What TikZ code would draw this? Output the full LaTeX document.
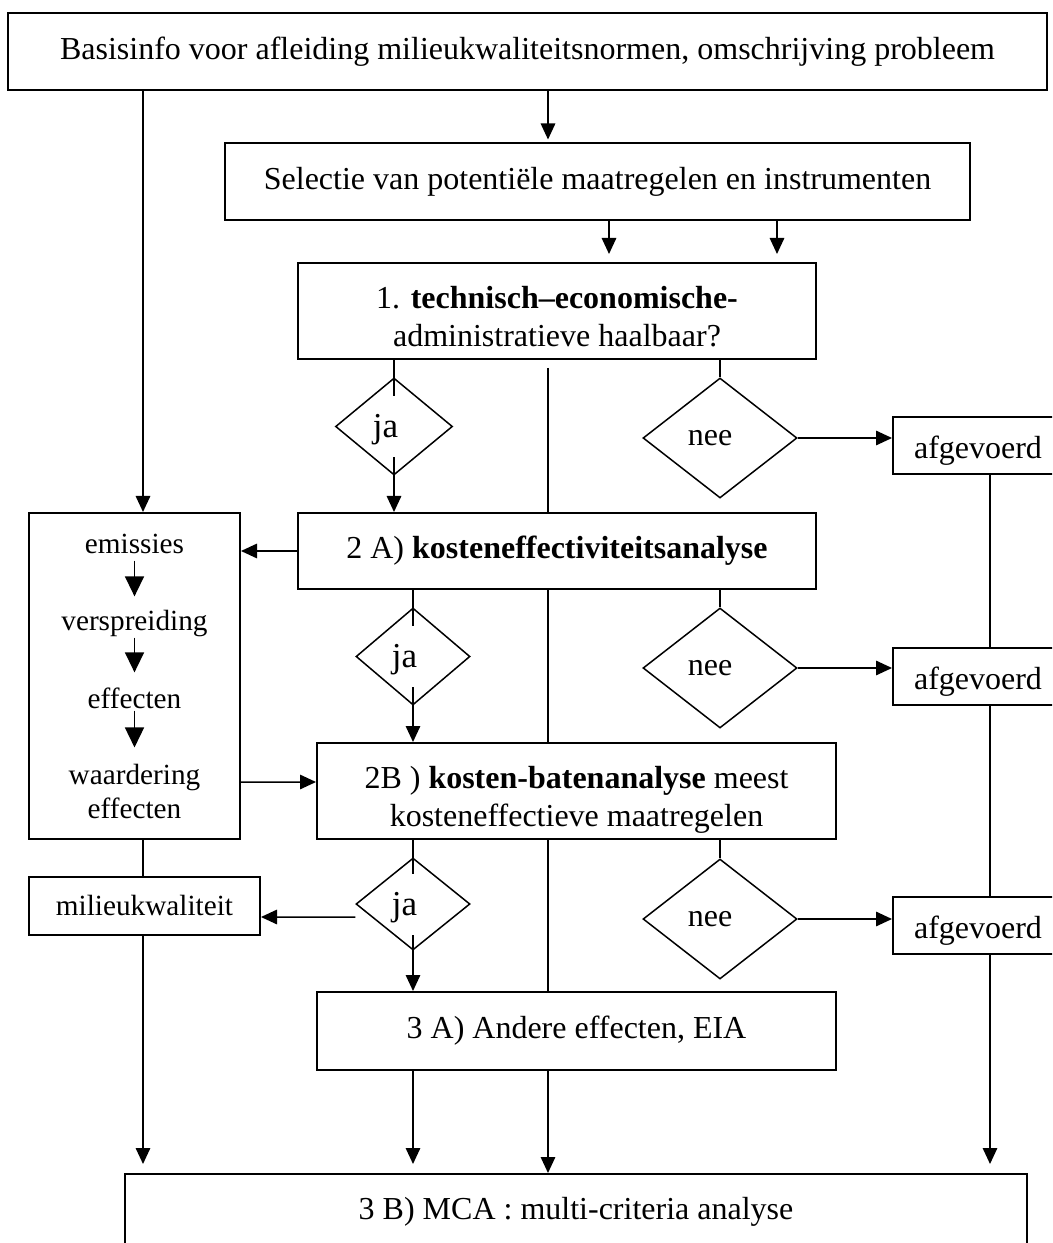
\documentclass[tikz,border=0pt]{standalone}
\usepackage{fontspec}
\setmainfont{Liberation Serif}
\usetikzlibrary{arrows.meta,shapes.geometric}
\newcommand{\jamask}[1]{{\setlength{\fboxsep}{0pt}\colorbox{white}{\rule[-7.7pt]{0pt}{24.4pt}\kern4pt}\kern-2pt\makebox[0pt]{\kern-6.8pt\fontsize{14}{16}\selectfont#1}\kern2pt}}

\begin{document}
\begin{tikzpicture}[x=0.4pt,y=-0.4pt]
    \tikzstyle{every node}=[font=\fontsize{12.8}{15.2}\selectfont]
    \tikzstyle{box}=[draw,line width=0.8pt,inner sep=0pt,align=center]
    \tikzstyle{choice}=[draw,diamond,line width=0.6pt,inner sep=0pt]
    \tikzstyle{item}=[inner sep=0pt,text height=8.5pt,text depth=2.8pt,font=\fontsize{11.7}{13.8}\selectfont]
    \tikzstyle{gone}=[box,minimum width=68pt,minimum height=22.8pt,text height=13.5pt,text depth=2.8pt]
    \tikzstyle{link}=[line width=0.6pt]
    \tikzstyle{arr}=[link,-{Triangle[length=6.4pt,width=5.8pt]}]
    \tikzstyle{bigarr}=[link,-{Triangle[length=8pt,width=7.6pt]}]

    \useasboundingbox (0,0) rectangle (1052,1243);
    \clip (0,0) rectangle (1052,1243);

    \coordinate (cL) at (143,0);
    \coordinate (cJa) at (394,0);
    \coordinate (cJ) at (413,0);
    \coordinate (cM) at (548,0);
    \coordinate (cS1) at (609,0);
    \coordinate (cS2) at (777,0);
    \coordinate (cR) at (990,0);

    \node[box,minimum width=415.6pt,minimum height=30.8pt] (info) at (527.5,51.5) {Basisinfo voor afleiding milieukwaliteitsnormen, omschrijving probleem};
    \node[box,minimum width=298pt,minimum height=30.8pt] (select) at (597.5,181.5) {Selectie van potentiële maatregelen en instrumenten};
    \node[box,minimum width=207.2pt,minimum height=38.4pt] (tech) at (557,311) {\rule{0pt}{13.2pt}1. \textbf{technisch--economische-}\\administratieve haalbaar?};
    \node[box,minimum width=207.2pt,minimum height=30.4pt] (kea) at (557,551) {2 A) \textbf{kosteneffectiviteitsanalyse}};
    \node[box,minimum width=207.6pt,minimum height=38.4pt] (kba) at (576.5,791) {\rule{0pt}{15.8pt}2B ) \textbf{kosten-batenanalyse} meest\\kosteneffectieve maatregelen};
    \node[box,minimum width=207.6pt,minimum height=31.2pt] (eia) at (576.5,1031) {3 A) Andere effecten, EIA};
    \node[box,anchor=north,text height=14pt,text depth=40pt,inner ysep=4pt,minimum width=360.8pt] (mca) at (576,1173) {3 B) MCA : multi-criteria analyse};

    \node[box,minimum width=84.4pt,minimum height=130.4pt] (effbox) at (134.5,676) {};
    \node[item] (emis) at (134.5,546) {emissies};
    \node[item] (versp) at (134.5,623) {verspreiding};
    \node[item] (effect) at (134.5,701) {effecten};
    \node[inner sep=0pt,align=center,font=\fontsize{11.7}{13.8}\selectfont] (waard) at (134.5,791.5) {waardering\\effecten};
    \node[box,minimum width=92.4pt,minimum height=23.2pt,text height=10.4pt,text depth=2.5pt,font=\fontsize{11.7}{13.8}\selectfont] (milieu) at (144.5,906) {milieukwaliteit};

    \node[gone] (afgA) at (978,445.5) {afgevoerd};
    \node[gone] (afgB) at (978,676) {afgevoerd};
    \node[gone] (afgC) at (978,925.5) {afgevoerd};

    \node[choice,minimum width=61.6pt,minimum height=48pt] (neeA) at (720,438) {nee\kern8pt};
    \node[choice,minimum width=61.6pt,minimum height=48pt] (neeB) at (720,668) {nee\kern8pt};
    \node[choice,minimum width=61.6pt,minimum height=48pt] (neeC) at (720,919) {nee\kern8pt};

    % ja-lines go through the diamonds
    \draw[arr] (tech.south -| cJa) -- (kea.north -| cJa);
    \node[choice,minimum width=46.8pt,minimum height=38.8pt] (jaA) at (394,426.5) {\jamask{ja}};
    \draw[arr] (kea.south -| cJ) -- (kba.north -| cJ);
    \node[choice,minimum width=45.6pt,minimum height=38.8pt] (jaB) at (413,656.5) {\jamask{ja}};
    \draw[arr] (kba.south -| cJ) -- (eia.north -| cJ);
    \node[choice,minimum width=45.6pt,minimum height=36.8pt] (jaC) at (413,904) {\jamask{ja}};

    \draw[arr] (info.south -| cL) -- (effbox.north -| cL);
    \draw[arr,shorten >=1pt] (info.south -| cM) -- (select.north -| cM);
    \draw[arr,shorten >=3.2pt] (select.south -| cS1) -- (tech.north -| cS1);
    \draw[arr,shorten >=3.2pt] (select.south -| cS2) -- (tech.north -| cS2);

    \draw[link] (tech.south -| neeA) -- (neeA.north);
    \draw[link] (kea.south -| neeB) -- (neeB.north);
    \draw[link] (kba.south -| neeC) -- (neeC.north);
    \draw[arr] (neeA.east) -- (neeA.east -| afgA.west);
    \draw[arr] (neeB.east) -- (neeB.east -| afgB.west);
    \draw[arr] (neeC.east) -- (neeC.east -| afgC.west);

    \draw[link,shorten <=3.2pt] (tech.south -| cM) -- (kea.north -| cM);
    \draw[link] (kea.south -| cM) -- (kba.north -| cM);
    \draw[link] (kba.south -| cM) -- (eia.north -| cM);
    \draw[arr] (eia.south -| cM) -- (mca.north -| cM);

    \draw[link] (afgA.south -| cR) -- (afgB.north -| cR);
    \draw[link] (afgB.south -| cR) -- (afgC.north -| cR);
    \draw[arr,shorten >=3.6pt] (afgC.south -| cR) -- (mca.north -| cR);

    \draw[arr] (kea.west) -- (kea.west -| effbox.east);
    \draw[arr] ([yshift=-42.4pt]effbox.east) -- ([yshift=3.6pt]kba.west);
    \draw[bigarr,shorten >=4.8pt] (emis.south) -- (versp.north);
    \draw[bigarr,shorten >=5.6pt] (versp.south) -- (effect.north);
    \draw[bigarr,shorten <=-2pt,shorten >=6.4pt] (effect.south) -- (waard.north);

    \draw[link] (effbox.south -| cL) -- (milieu.north -| cL);
    \draw[arr] ([yshift=-5.2pt]jaC.west) -- ([yshift=-4.4pt]milieu.east);
    \draw[arr,shorten >=3.6pt] (milieu.south -| cL) -- (mca.north -| cL);
    \draw[arr,shorten >=3.6pt] (eia.south -| cJ) -- (mca.north -| cJ);

\end{tikzpicture}
\end{document}
